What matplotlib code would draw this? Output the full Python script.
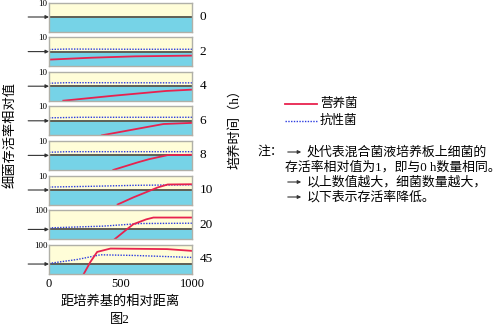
import matplotlib
matplotlib.use('Agg')
import numpy as np
import matplotlib.pyplot as plt

plt.rcParams['font.family'] = ['Liberation Serif', 'Noto Sans CJK SC']

# data
times = ['0', '2', '4', '6', '8', '10', '20', '45']
ytops = [10, 10, 10, 10, 10, 10, 100, 100]

# 营养菌 (red)
red_x = [None,
         [0, 300, 600, 1000],
         [100, 450, 820, 1000],
         [370, 800, 1000],
         [450, 620, 700, 830, 1000],
         [480, 590, 660, 760, 830, 1000],
         [460, 550, 590, 680, 730, 1000],
         [244, 290, 337, 430, 826, 1000]]
red_y = [None,
         [0.28, 0.38, 0.47, 0.53],
         [0.1, 0.22, 0.47, 0.58],
         [0.1, 0.6, 0.72],
         [0.1, 0.33, 0.55, 1.05, 1.1],
         [0.1, 0.31, 0.59, 1.5, 2.4, 2.5],
         [0.1, 1.2, 3.5, 11, 17, 17],
         [0.1, 1.7, 18, 40, 35, 23]]

# 抗性菌 (blue dotted)
blue_x = [None,
          [0, 130, 600, 1000],
          [0, 130, 1000],
          [0, 220, 1000],
          [0, 130, 1000],
          [0, 300, 600, 1000],
          [0, 380, 640, 1000],
          [0, 200, 360, 600, 1000]]
blue_y = [None,
          [1.4, 1.5, 1.45, 1.45],
          [1.6, 1.75, 1.7],
          [1.6, 1.75, 1.75],
          [1.65, 1.8, 1.8],
          [1.6, 1.8, 2.1, 2.3],
          [1.45, 2.2, 4.1, 4.4],
          [1.15, 3.0, 9.0, 7.7, 4.8]]

W, H = 501, 328
fig = plt.figure(figsize=(W / 100, H / 100), dpi=100)

def fx(px):
    return px / W

def fy(py):
    return 1 - py / H

cream = '#FFFDD8'
cyan = '#76D3E7'
red = '#E8224E'
blue = '#2B3BE0'

left, right = 49, 192
ph = 29
for i, t in enumerate(times):
    top = 2.5 + i * 34.6
    ax = fig.add_axes([fx(left), fy(top + ph), fx(right) - fx(left), ph / H])
    ax.set_yscale('log')
    ax.set_xlim(0, 1000)
    ax.set_ylim(0.1, ytops[i])
    ax.axhspan(0.1, 1, color=cyan, lw=0)
    ax.axhspan(1, ytops[i], color=cream, lw=0)
    ax.axhline(1, color='#5f5f55', lw=1.4)
    if red_x[i] is not None:
        ax.plot(blue_x[i], blue_y[i], color=blue, lw=1.0, ls=(0, (1, 1)))
        ax.plot(red_x[i], red_y[i], color=red, lw=1.3)
    for s in ax.spines.values():
        s.set_color('#b0b0a8')
        s.set_linewidth(1.0)
    ax.yaxis.set_minor_locator(matplotlib.ticker.NullLocator())
    ax.set_yticks([ytops[i]])
    ax.set_yticklabels([str(ytops[i])], fontsize=6.5)
    ax.tick_params(axis='y', length=0, pad=1)
    if i == len(times) - 1:
        ax.set_xticks([0, 500, 1000])
        ax.set_xticklabels(['0', '500', '1000'], fontsize=9)
        ax.tick_params(axis='x', length=0, pad=3)
    else:
        ax.set_xticks([])
    ax.annotate('', xy=(0, 1), xycoords=('axes fraction', 'data'),
                xytext=(-15, 0), textcoords='offset points',
                arrowprops=dict(arrowstyle='-|>', color='#333333', lw=0.8,
                                mutation_scale=5, shrinkA=0, shrinkB=0),
                annotation_clip=False)
    ax.text(1.055, 0.5, t, transform=ax.transAxes, fontsize=9.5,
            ha='left', va='center')

# axis titles
fig.text(fx(10), fy(135), '细菌存活率相对值', rotation=90, fontsize=9.5,
         ha='center', va='center')
fig.text(fx(235), fy(126), '培养时间（h）', rotation=90, fontsize=9.5,
         ha='center', va='center')
fig.text(fx(120), fy(302), '距培养基的相对距离', fontsize=9.5,
         ha='center', va='center')
fig.text(fx(120), fy(320), '图2', fontsize=9.5, ha='center', va='center')

# legend
fig.add_artist(plt.Line2D([fx(285), fx(317)], [fy(104), fy(104)],
                          color=red, lw=1.3))
fig.text(fx(320), fy(104), '营养菌', fontsize=9, va='center')
fig.add_artist(plt.Line2D([fx(285), fx(317)], [fy(121), fy(121)],
                          color=blue, lw=1.0, ls=(0, (1, 1))))
fig.text(fx(320), fy(121), '抗性菌', fontsize=9, va='center')

# note
def small_arrow(px, py):
    fig.add_artist(matplotlib.patches.FancyArrowPatch(
        (fx(px), fy(py)), (fx(px + 19), fy(py)), transform=fig.transFigure,
        arrowstyle='-|>', mutation_scale=5, color='#333333', lw=0.8))

fig.text(fx(257), fy(152), '注：', fontsize=9.3, va='center')
small_arrow(285, 152)
fig.text(fx(307), fy(152), '处代表混合菌液培养板上细菌的', fontsize=9.3, va='center')
fig.text(fx(285), fy(167), '存活率相对值为1，即与0 h数量相同。', fontsize=9.3, va='center')
small_arrow(285, 182)
fig.text(fx(307), fy(182), '以上数值越大，细菌数量越大，', fontsize=9.3, va='center')
small_arrow(285, 197)
fig.text(fx(307), fy(197), '以下表示存活率降低。', fontsize=9.3, va='center')

fig.savefig('out.png', dpi=100)
